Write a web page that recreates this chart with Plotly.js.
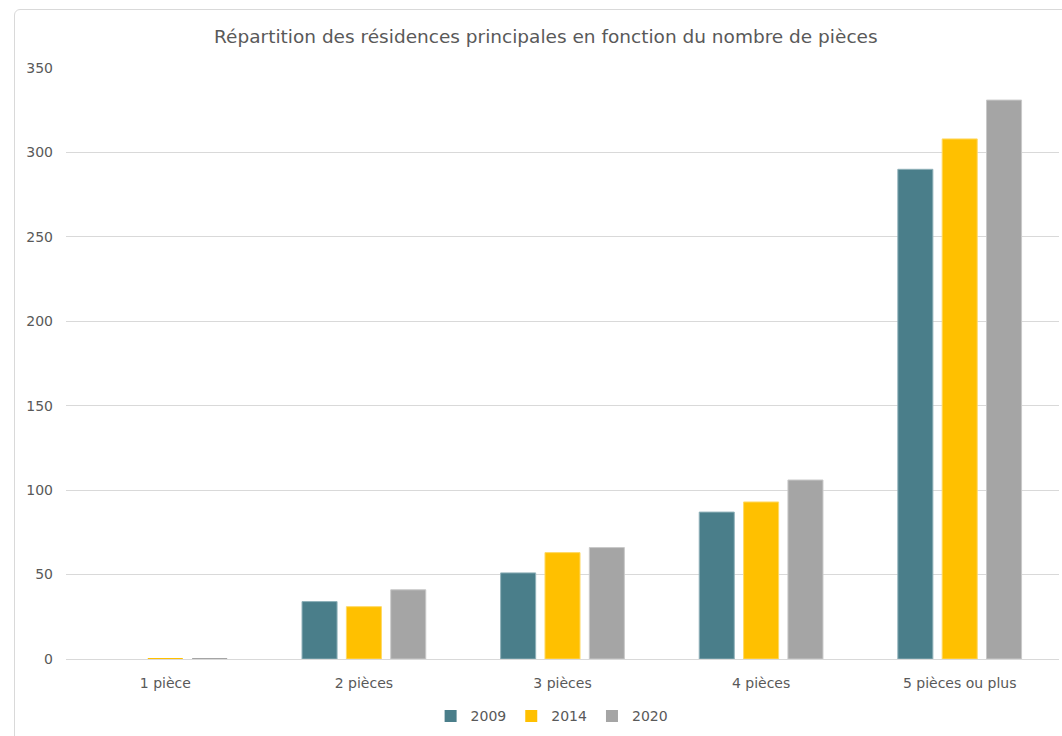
<!DOCTYPE html>
<html>
<head>
<meta charset="utf-8">
<script src="https://cdn.plot.ly/plotly-3.0.1.min.js"></script>
<style>
html, body { margin: 0; padding: 0; overflow: hidden; background: #fff; }
#frame { position: absolute; left: 14px; top: 9px; width: 1100px; height: 780px;
  border: 1px solid #d9d9d9; border-radius: 6px; }
#chart { position: absolute; left: 0; top: 0; width: 1047px; height: 726px; }
</style>
</head>
<body>
<div id="frame"><div id="chart"></div></div>
<script>
const categories = ["1 pièce", "2 pièces", "3 pièces", "4 pièces", "5 pièces ou plus"];
const years = ["2009", "2014", "2020"];
const values2009 = [0, 34, 51, 87, 290];
const values2014 = [0.5, 31, 63, 93, 308];
const values2020 = [0.5, 41, 66, 106, 331];
const yTicks = [0, 50, 100, 150, 200, 250, 300, 350];

const colors = ["#4a7e8a", "#ffc000", "#a5a5a5"];
const lineColors = ["#8fb1b9", "#ffd966", "#c9c9c9"];
const series = [values2009, values2014, values2020];

const FONT = "DejaVu Sans, sans-serif";
const data = series.map((vals, i) => ({
  type: "bar",
  name: years[i],
  x: categories,
  y: vals,
  marker: {
    color: colors[i],
    line: { color: lineColors[i], width: vals.map(v => (v >= 1 ? 1 : 0)) }
  },
  hoverinfo: "x+y+name"
}));

const layout = {
  width: 1047,
  height: 726,
  margin: { l: 51, r: 3, t: 58, b: 77 },
  paper_bgcolor: "rgba(0,0,0,0)",
  plot_bgcolor: "rgba(0,0,0,0)",
  font: { family: FONT, color: "#595959", size: 14 },
  title: {
    text: "Répartition des résidences principales en fonction du nombre de pièces",
    font: { family: FONT, size: 18.5, color: "#595959" },
    xref: "container", x: 0.507, xanchor: "center",
    yref: "container", y: 0.963, yanchor: "middle"
  },
  barmode: "group",
  bargap: 0.33,
  bargroupgap: 0.21,
  xaxis: {
    type: "category",
    showgrid: false,
    zeroline: false,
    showline: false,
    ticks: "",
    tickfont: { family: FONT, size: 14, color: "#595959" },
    ticklabelstandoff: 14
  },
  yaxis: {
    range: [0, 350],
    tickvals: yTicks,
    ticktext: yTicks.map(String),
    showgrid: true,
    gridcolor: "#d9d9d9",
    gridwidth: 1,
    zeroline: true,
    zerolinecolor: "#d9d9d9",
    zerolinewidth: 1,
    showline: false,
    ticks: "",
    tickfont: { family: FONT, size: 14, color: "#595959" },
    ticklabelstandoff: 12
  },
  showlegend: true,
  legend: {
    orientation: "h",
    xref: "container", x: 0.513, xanchor: "center",
    yref: "container", y: 0.027, yanchor: "middle",
    font: { family: FONT, size: 14, color: "#595959" },
    itemwidth: 30,
    traceorder: "normal"
  }
};

Plotly.newPlot("chart", data, layout, { displayModeBar: false });
</script>
</body>
</html>
